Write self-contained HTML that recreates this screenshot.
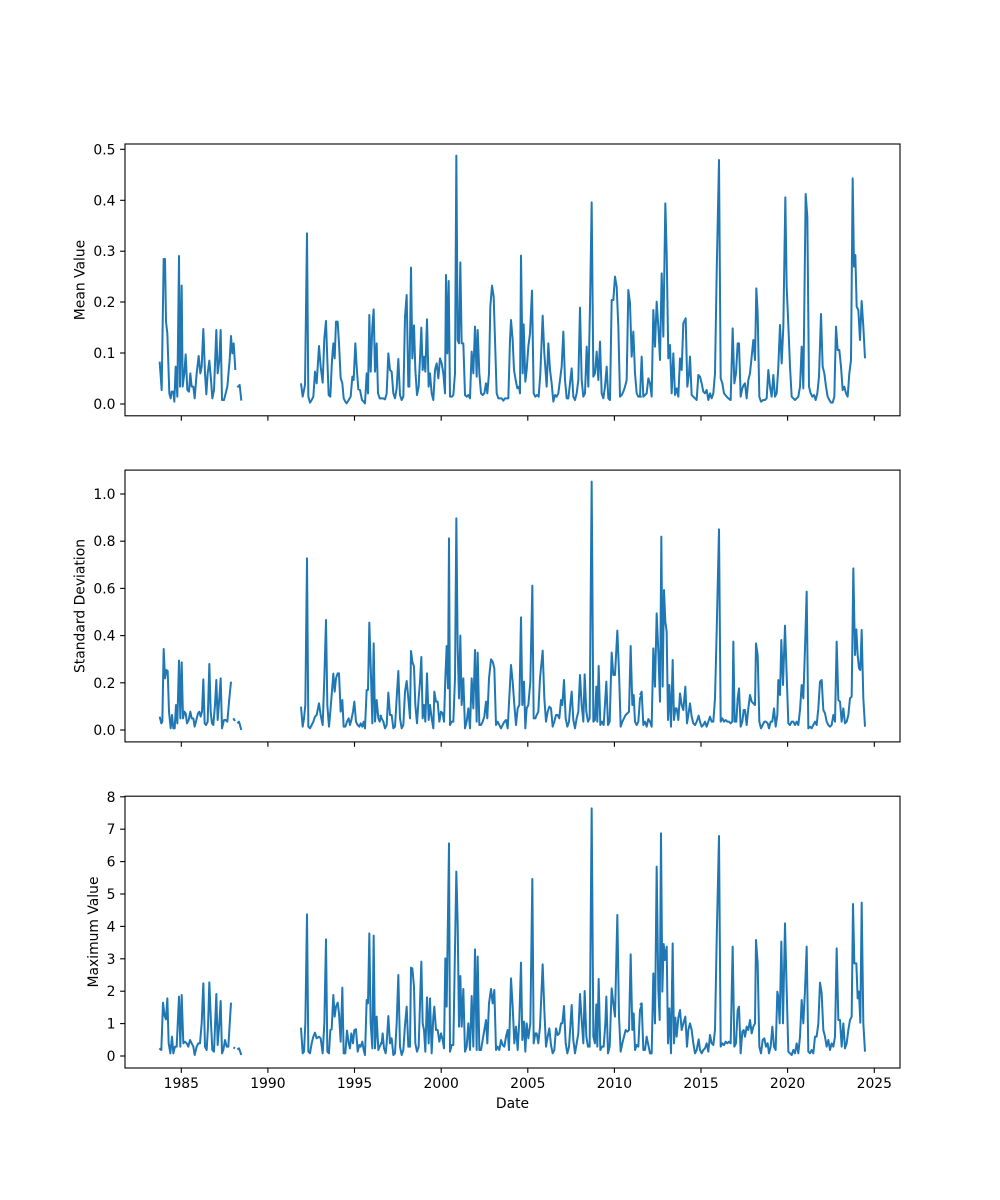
<!DOCTYPE html>
<html>
<head>
<meta charset="utf-8">
<style>
html,body{margin:0;padding:0;background:#fff;}
svg{display:block;}
text{font-family:"DejaVu Sans","Liberation Sans",sans-serif;font-size:13.9px;fill:#000;}
.d{fill:none;stroke:#1f77b4;stroke-width:2;stroke-linejoin:round;stroke-linecap:butt;}
.ax{fill:none;stroke:#000;stroke-width:1.1;}
.tk{stroke:#000;stroke-width:1.1;}
</style>
</head>
<body>
<svg width="1000" height="1200" viewBox="0 0 1000 1200" xmlns="http://www.w3.org/2000/svg">
<rect width="1000" height="1200" fill="#fff"/>

<!-- ================= TOP: Mean Value ================= -->
<g transform="translate(120,140) scale(0.3333333)">
<polyline class="d" vector-effect="non-scaling-stroke" points="119,665 125,750 131,357 135,357 138,545 142,580 148,760 152,775 155,755 160,755 163,785 167,680 172,770 177,348 180,740 185,437 188,740 193,700 197,643 202,750 207,755 211,700 215,740 220,740 224,775 230,700 236,648 241,700 245,680 250,567 255,700 259,763 263,700 268,662 273,720 277,775 282,750 289,570 293,700 298,660 302,570 306,780 312,780 317,760 322,740 329,660 333,588 337,640 341,610 346,690"/>
<polyline class="d" vector-effect="non-scaling-stroke" points="352,742 359,735 364,782"/>
<polyline class="d" vector-effect="non-scaling-stroke" points="543,730 548,770 555,735 561,280 565,770 570,788 575,780 580,770 585,695 590,730 597,618 602,680 608,728 613,595 618,543 622,660 626,765 631,770 636,660 640,610 644,655 648,545 653,545 657,610 662,715 667,730 671,775 676,785 680,790 686,780 692,770 697,710 701,720 706,610 710,680 715,748 720,750 726,780 731,785 735,790 740,700 744,760 748,525 752,695 757,560 761,508 765,695 770,610 774,760 779,775 784,775"/>
</g>
<g transform="translate(380,140) scale(0.3333333)">
<polyline class="d" vector-effect="non-scaling-stroke" points="0,775 10,775 15,778 20,760 25,640 30,690 35,695 40,760 45,775 50,745 55,657 60,765 65,780 70,770 75,530 80,465 85,740 88,740 93,383 97,655 102,556 106,690 111,765 116,740 120,655 124,563 128,690 132,650 136,695 141,538 146,740 150,700 155,760 160,780 165,690 170,670 175,715 180,655 185,670 190,700 195,760 198,405 202,640 206,423 210,770 216,770 220,765 225,700 229,47 233,600 237,610 241,367 245,610 250,610 255,765 260,770 265,765 270,775 275,635 280,700 285,560 290,710 293,570 298,700 303,760 308,765 313,760 318,730 322,760 327,700 331,500 336,437 341,470 345,600 350,760 355,775 365,775 370,782 375,775 385,775 390,600 393,540 398,600 402,690 407,720 412,745 417,740 420,760 423,347 428,700 431,553 436,725 440,690 445,620 450,580 456,452 461,760 466,770 471,765 476,770 481,700 488,527 493,640 500,740 505,610 510,690 515,730 520,785 525,765 530,770 535,760 540,720 545,680 550,575 555,720 560,775 565,775 570,730 575,685 580,770 585,780 590,760 595,720 600,503 605,720 610,770 615,760 620,620 625,740 630,500 635,187 640,710 645,700 650,635 655,720 660,605 665,760 670,775 675,740 680,680 685,775 690,780 695,480 700,480 705,410 710,440 715,560 720,770 725,765 730,755 735,740 740,720 745,450 750,490 755,650 760,575 765,700 770,760 775,770 780,770 785,770"/>
</g>
<g transform="translate(640,140) scale(0.3333333)">
<polyline class="d" vector-effect="non-scaling-stroke" points="0,770 5,650 10,770 15,765 20,760 25,715 30,730 35,770 40,510 45,620 50,485 55,560 60,660 65,400 70,590 76,190 80,340 85,655 90,615 95,760 100,640 105,765 110,745 115,770 120,655 125,690 130,550 137,535 142,740 147,700 150,650 155,765 160,770 165,775 170,780 175,705 180,710 185,730 190,755 195,760 200,750 205,780 210,760 215,775 220,760 225,700 230,400 237,60 242,715 247,730 252,760 260,770 265,775 272,780 278,565 283,730 288,700 293,610 297,610 302,770 307,745 311,735 315,730 320,775 325,720 330,700 335,650 340,600 345,660 349,445 353,520 358,770 363,785 370,780 375,780 380,775 385,690 390,740 395,770 400,705 405,770 410,760 415,680 420,555 425,670 430,560 436,172 440,440 445,555 450,680 455,770 460,775 465,780 470,775 475,770 480,740 485,620 490,745 497,162 502,230 507,740 512,760 517,770 522,765 527,780 532,760 537,710 543,522 548,680 553,700 558,740 563,770 568,780 573,788 578,788 583,770 588,560 593,630 598,630 603,680 608,750 613,740 618,760 623,770 628,700 633,660 638,115 642,380 646,345 650,500 655,510 660,600 665,483 670,560 675,655"/>
</g>

<rect class="ax" x="125" y="144" width="775" height="271.8"/>
<g class="tk">
<line x1="125" y1="404" x2="120.1" y2="404"/>
<line x1="125" y1="353" x2="120.1" y2="353"/>
<line x1="125" y1="302" x2="120.1" y2="302"/>
<line x1="125" y1="251.2" x2="120.1" y2="251.2"/>
<line x1="125" y1="200.3" x2="120.1" y2="200.3"/>
<line x1="125" y1="149.3" x2="120.1" y2="149.3"/>
<line x1="181.3" y1="415.8" x2="181.3" y2="420.7"/>
<line x1="267.9" y1="415.8" x2="267.9" y2="420.7"/>
<line x1="354.5" y1="415.8" x2="354.5" y2="420.7"/>
<line x1="441.2" y1="415.8" x2="441.2" y2="420.7"/>
<line x1="527.8" y1="415.8" x2="527.8" y2="420.7"/>
<line x1="614.4" y1="415.8" x2="614.4" y2="420.7"/>
<line x1="701" y1="415.8" x2="701" y2="420.7"/>
<line x1="787.6" y1="415.8" x2="787.6" y2="420.7"/>
<line x1="874.3" y1="415.8" x2="874.3" y2="420.7"/>
</g>
<g text-anchor="end">
<text x="115.5" y="409">0.0</text>
<text x="115.5" y="358">0.1</text>
<text x="115.5" y="307">0.2</text>
<text x="115.5" y="256.2">0.3</text>
<text x="115.5" y="205.3">0.4</text>
<text x="115.5" y="154.3">0.5</text>
</g>
<text transform="translate(84.5,280) rotate(-90)" text-anchor="middle">Mean Value</text>

<!-- ================= MIDDLE: Standard Deviation ================= -->
<g transform="translate(120,465) scale(0.3333333)">
<polyline class="d" vector-effect="non-scaling-stroke" points="119,755 124,775 127,770 131,552 135,640 139,615 143,618 147,740 152,790 156,750 160,790 164,790 168,720 172,775 177,587 181,760 185,592 189,760 193,740 197,745 201,775 206,765 211,740 215,760 220,760 224,785 229,765 234,745 238,740 242,755 246,740 250,643 254,775 258,780 263,770 268,597 272,740 276,775 280,780 285,720 289,645 293,765 298,700 302,640 306,790 312,765 317,765 322,770 328,700 333,650"/>
<polyline class="d" vector-effect="non-scaling-stroke" points="340,760 345,768"/>
<polyline class="d" vector-effect="non-scaling-stroke" points="352,775 357,770 364,795"/>
<polyline class="d" vector-effect="non-scaling-stroke" points="543,725 548,785 552,760 556,720 561,280 565,785 570,790 575,780 580,770 585,755 590,750 597,715 602,750 608,780 613,640 618,465 622,720 627,785 631,740 635,690 640,626 644,680 648,640 653,625 657,625 662,740 667,705 671,785 676,785 681,770 686,760 690,780 694,765 699,740 703,710 708,770 713,780 718,785 722,775 727,785 731,770 735,790 740,675 744,675 748,473 752,600 757,775 761,535 765,770 770,705 775,760 779,770 784,750"/>
</g>
<g transform="translate(380,465) scale(0.3333333)">
<polyline class="d" vector-effect="non-scaling-stroke" points="0,750 5,760 10,770 15,790 20,780 25,683 30,750 35,750 40,790 45,785 50,700 55,618 60,760 65,790 70,780 75,680 80,648 85,700 90,760 93,558 97,590 102,605 106,720 111,775 116,700 120,650 124,576 128,760 132,720 136,770 141,625 146,765 150,720 155,760 160,790 163,680 168,710 173,710 178,770 183,740 188,745 192,770 196,640 200,543 204,670 207,220 210,780 215,770 220,770 225,640 229,160 233,550 237,700 241,512 245,720 250,640 255,790 260,770 265,730 270,790 275,640 280,730 285,555 290,770 293,563 298,780 303,780 308,770 313,755 318,710 322,760 327,640 333,583 338,590 343,610 348,780 353,770 358,780 363,790 368,780 373,770 378,765 383,790 387,715 393,600 398,650 403,720 408,780 413,730 418,720 423,457 427,720 432,650 436,790 440,730 445,720 451,650 457,362 461,760 466,760 470,750 475,740 480,640 488,557 493,700 498,770 503,740 508,725 513,730 518,785 523,770 528,750 533,750 538,760 543,705 547,720 552,645 557,760 562,785 567,770 571,720 575,680 580,765 585,790 590,760 595,740 600,630 605,720 610,770 614,628 619,740 624,770 629,760 635,50 640,770 645,765 649,665 652,770 656,603 661,780 666,770 671,780 676,700 679,650 684,780 689,770 695,563 700,630 705,630 712,497 717,620 722,785 727,770 732,760 737,750 742,745 747,740 752,543 757,720 761,690 765,770 770,780 775,770 780,700 785,690"/>
</g>
<g transform="translate(640,465) scale(0.3333333)">
<polyline class="d" vector-effect="non-scaling-stroke" points="0,690 5,680 10,780 15,770 20,785 25,762 30,770 35,785 40,550 45,665 50,445 55,560 60,710 64,215 68,665 72,375 76,470 80,500 84,765 88,660 93,785 98,585 102,765 106,730 110,730 115,765 120,685 125,720 130,735 136,665 141,775 145,750 150,715 155,755 160,775 165,780 170,770 176,752 180,770 185,785 190,780 195,770 200,785 205,770 210,755 215,770 220,770 225,700 230,500 237,193 242,770 247,760 252,770 257,765 262,770 267,770 272,775 277,770 280,530 284,770 289,770 293,700 297,670 302,785 307,770 311,735 315,735 320,780 325,730 330,690 335,710 340,715 345,720 348,535 353,570 358,770 363,790 368,780 373,770 378,770 383,775 387,790 392,770 397,770 402,730 407,785 412,750 415,645 420,690 424,525 429,660 435,482 440,630 445,775 450,780 455,770 460,770 465,780 470,770 475,780 480,735 485,660 490,700 495,550 500,380 505,790 510,785 515,790 520,780 525,770 530,780 535,730 540,650 545,645 550,735 555,745 560,770 565,780 570,785 575,780 580,750 585,770 590,530 595,705 600,710 605,770 610,730 615,775 620,770 625,750 630,700 635,695 640,310 645,570 649,493 653,570 657,610 661,615 665,495 670,700 675,785"/>
</g>

<rect class="ax" x="125" y="470.1" width="775" height="271.8"/>
<g class="tk">
<line x1="125" y1="730" x2="120.1" y2="730"/>
<line x1="125" y1="682.8" x2="120.1" y2="682.8"/>
<line x1="125" y1="635.6" x2="120.1" y2="635.6"/>
<line x1="125" y1="588.4" x2="120.1" y2="588.4"/>
<line x1="125" y1="541.2" x2="120.1" y2="541.2"/>
<line x1="125" y1="494" x2="120.1" y2="494"/>
<line x1="181.3" y1="741.9" x2="181.3" y2="746.8"/>
<line x1="267.9" y1="741.9" x2="267.9" y2="746.8"/>
<line x1="354.5" y1="741.9" x2="354.5" y2="746.8"/>
<line x1="441.2" y1="741.9" x2="441.2" y2="746.8"/>
<line x1="527.8" y1="741.9" x2="527.8" y2="746.8"/>
<line x1="614.4" y1="741.9" x2="614.4" y2="746.8"/>
<line x1="701" y1="741.9" x2="701" y2="746.8"/>
<line x1="787.6" y1="741.9" x2="787.6" y2="746.8"/>
<line x1="874.3" y1="741.9" x2="874.3" y2="746.8"/>
</g>
<g text-anchor="end">
<text x="115.5" y="735">0.0</text>
<text x="115.5" y="687.8">0.2</text>
<text x="115.5" y="640.6">0.4</text>
<text x="115.5" y="593.4">0.6</text>
<text x="115.5" y="546.2">0.8</text>
<text x="115.5" y="499">1.0</text>
</g>
<text transform="translate(84.5,606) rotate(-90)" text-anchor="middle">Standard Deviation</text>

<!-- ================= BOTTOM: Maximum Value ================= -->
<g transform="translate(120,790) scale(0.3333333)">
<polyline class="d" vector-effect="non-scaling-stroke" points="118,775 124,780 129,638 134,678 138,688 142,625 146,760 151,790 156,740 160,790 165,770 170,770 177,620 181,770 185,615 190,760 195,755 200,760 205,770 210,750 215,760 220,770 224,795 230,770 235,760 240,760 245,700 250,580 255,770 260,780 264,710 268,577 273,700 277,780 282,785 289,612 293,765 298,700 302,633 306,790 310,780 315,750 320,770 325,770 333,638"/>
<polyline class="d" vector-effect="non-scaling-stroke" points="340,772 345,775"/>
<polyline class="d" vector-effect="non-scaling-stroke" points="352,778 357,775 364,795"/>
<polyline class="d" vector-effect="non-scaling-stroke" points="543,713 548,790 552,785 556,700 561,373 565,785 570,790 575,760 580,740 585,728 590,745 597,740 602,745 608,790 613,700 618,448 622,785 627,790 631,720 635,718 640,615 644,680 648,650 653,638 657,670 662,755 667,593 671,790 676,790 681,722 686,760 690,775 694,730 699,760 703,720 708,718 713,785 718,765 722,770 727,755 731,780 735,795 740,630 744,640 748,430 752,700 757,775 761,437 765,775 770,680 775,780 779,770 784,760"/>
</g>
<g transform="translate(380,790) scale(0.3333333)">
<polyline class="d" vector-effect="non-scaling-stroke" points="0,760 5,760 8,730 12,775 17,790 20,760 25,678 30,760 35,745 40,795 45,790 50,700 55,555 60,770 65,795 70,780 75,705 80,650 85,770 90,770 93,533 97,535 102,590 106,760 111,785 116,770 120,640 124,515 128,700 132,720 136,785 141,622 146,760 150,625 155,790 160,680 163,650 168,720 173,720 178,755 183,730 188,750 192,775 196,505 200,650 207,160 210,785 215,765 220,765 229,245 233,400 237,710 241,558 245,710 250,597 255,785 260,770 265,700 270,780 275,618 280,770 285,478 290,780 293,500 298,780 303,780 308,750 313,720 318,690 322,760 327,640 333,597 338,640 343,600 348,780 353,770 358,780 363,750 368,765 373,770 378,740 383,720 387,780 393,565 398,650 403,760 408,710 413,780 418,690 423,518 427,750 432,695 436,785 440,700 445,745 451,700 457,267 461,760 466,730 470,730 475,760 480,710 488,523 493,660 498,770 503,740 508,715 513,765 518,790 523,780 528,715 533,735 538,730 543,700 547,700 552,648 557,760 562,790 567,770 571,710 575,645 580,750 585,790 590,760 595,730 600,612 605,690 610,760 614,603 619,740 624,770 629,770 635,55 640,740 645,760 649,643 652,770 656,567 661,780 666,770 671,770 676,700 679,620 684,790 689,770 695,595 700,640 705,680 712,375 717,680 722,785 727,760 732,740 737,720 742,725 747,720 752,493 757,720 761,670 765,780 770,765 775,770 780,660 786,643"/>
</g>
<g transform="translate(640,790) scale(0.3333333)">
<polyline class="d" vector-effect="non-scaling-stroke" points="0,645 5,640 10,780 15,780 20,740 25,765 30,790 35,790 40,550 45,700 50,230 55,600 59,690 63,130 67,605 71,462 75,510 80,470 84,760 88,655 93,790 98,460 102,760 106,683 110,740 115,683 120,660 125,720 130,700 136,680 141,770 145,720 150,700 155,720 160,760 165,790 170,780 176,748 180,780 185,790 190,780 195,775 200,760 205,785 210,735 215,760 220,765 225,720 230,450 237,138 242,770 247,760 252,765 257,755 262,760 267,755 272,760 278,470 283,770 288,760 293,660 297,650 302,790 307,725 311,720 315,740 320,710 325,720 330,690 335,730 340,710 345,700 348,450 353,520 358,770 363,790 368,750 373,745 378,770 383,760 387,790 392,770 397,710 402,770 407,780 412,605 415,620 419,700 424,455 429,700 435,400 440,600 445,785 450,790 455,795 460,780 465,790 470,760 475,790 480,740 485,630 490,700 495,600 500,470 505,785 510,790 515,780 520,790 525,740 530,740 535,700 540,578 545,610 550,720 555,740 560,770 565,750 570,780 575,760 580,770 585,740 590,475 595,690 600,690 605,770 610,700 615,775 620,760 625,720 630,690 635,680 639,342 643,520 649,520 653,625 657,605 661,698 665,338 670,700 675,785"/>
</g>

<rect class="ax" x="125" y="796.2" width="775" height="271.8"/>
<g class="tk">
<line x1="125" y1="1056" x2="120.1" y2="1056"/>
<line x1="125" y1="1023.6" x2="120.1" y2="1023.6"/>
<line x1="125" y1="991.2" x2="120.1" y2="991.2"/>
<line x1="125" y1="958.8" x2="120.1" y2="958.8"/>
<line x1="125" y1="926.4" x2="120.1" y2="926.4"/>
<line x1="125" y1="894" x2="120.1" y2="894"/>
<line x1="125" y1="861.6" x2="120.1" y2="861.6"/>
<line x1="125" y1="829.2" x2="120.1" y2="829.2"/>
<line x1="125" y1="796.8" x2="120.1" y2="796.8"/>
<line x1="181.3" y1="1068" x2="181.3" y2="1072.9"/>
<line x1="267.9" y1="1068" x2="267.9" y2="1072.9"/>
<line x1="354.5" y1="1068" x2="354.5" y2="1072.9"/>
<line x1="441.2" y1="1068" x2="441.2" y2="1072.9"/>
<line x1="527.8" y1="1068" x2="527.8" y2="1072.9"/>
<line x1="614.4" y1="1068" x2="614.4" y2="1072.9"/>
<line x1="701" y1="1068" x2="701" y2="1072.9"/>
<line x1="787.6" y1="1068" x2="787.6" y2="1072.9"/>
<line x1="874.3" y1="1068" x2="874.3" y2="1072.9"/>
</g>
<g text-anchor="end">
<text x="115.5" y="1061">0</text>
<text x="115.5" y="1028.6">1</text>
<text x="115.5" y="996.2">2</text>
<text x="115.5" y="963.8">3</text>
<text x="115.5" y="931.4">4</text>
<text x="115.5" y="899">5</text>
<text x="115.5" y="866.6">6</text>
<text x="115.5" y="834.2">7</text>
<text x="115.5" y="801.8">8</text>
</g>
<g text-anchor="middle">
<text x="181.3" y="1088">1985</text>
<text x="267.9" y="1088">1990</text>
<text x="354.5" y="1088">1995</text>
<text x="441.2" y="1088">2000</text>
<text x="527.8" y="1088">2005</text>
<text x="614.4" y="1088">2010</text>
<text x="701" y="1088">2015</text>
<text x="787.6" y="1088">2020</text>
<text x="874.3" y="1088">2025</text>
</g>
<text transform="translate(98,932) rotate(-90)" text-anchor="middle">Maximum Value</text>
<text x="512.5" y="1108" text-anchor="middle">Date</text>
</svg>
</body>
</html>
